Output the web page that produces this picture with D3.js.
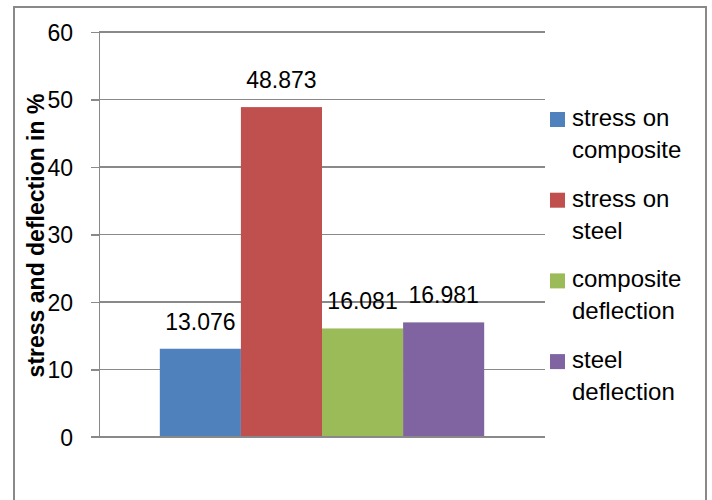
<!DOCTYPE html>
<html lang="en">
<head>
<meta charset="utf-8">
<title>stress and deflection</title>
<script src="https://cdn.jsdelivr.net/npm/d3@7"></script>
<style>
  body { margin: 0; background: #fff; }
  svg text { font-family: "Liberation Sans", Arial, sans-serif; fill: #000; }
  .axis path, .axis line { stroke: #898989; stroke-width: 1.4; shape-rendering: crispEdges; }
  .grid line { stroke: #898989; stroke-width: 1.4; shape-rendering: crispEdges; }
</style>
</head>
<body>
<script>
// data
var series = ["stress on composite", "stress on steel", "composite deflection", "steel deflection"];
var values = [13.076, 48.873, 16.081, 16.981];
var labels = ["13.076", "48.873", "16.081", "16.981"];
var colors = ["#4F81BD", "#C0504D", "#9BBB59", "#8064A2"];
var legendLines = [["stress on", "composite"], ["stress on", "steel"], ["composite", "deflection"], ["steel", "deflection"]];
var yTicks = [0, 10, 20, 30, 40, 50, 60];

var w = 712, h = 500;
var plotLeft = 99, plotRight = 545, plotTop = 32, plotBottom = 437;

var svg = d3.select("body").append("svg").attr("width", w).attr("height", h);

// outer border of the chart
svg.append("rect")
  .attr("x", 14).attr("y", 7).attr("width", 692).attr("height", 520)
  .attr("fill", "none").attr("stroke", "#898989").attr("stroke-width", 2);

var yScale = d3.scaleLinear().domain([0, 60]).range([plotBottom, plotTop]);
var xScale = d3.scaleBand().domain(series).range([plotLeft, plotRight]).paddingInner(0).paddingOuter(0.75);

// gridlines
svg.append("g").attr("class", "grid")
  .selectAll("line").data(yTicks.filter(function(d) { return d > 0; })).enter()
  .append("line")
  .attr("x1", plotLeft).attr("x2", plotRight)
  .attr("y1", function(d) { return yScale(d); })
  .attr("y2", function(d) { return yScale(d); });

// bars
svg.append("g").selectAll("rect").data(values).enter()
  .append("rect")
  .attr("x", function(d, i) { return xScale(series[i]); })
  .attr("width", xScale.bandwidth())
  .attr("y", function(d) { return yScale(d); })
  .attr("height", function(d) { return plotBottom - yScale(d); })
  .attr("fill", function(d, i) { return colors[i]; });

// value labels
svg.append("g").selectAll("text").data(values).enter()
  .append("text")
  .attr("x", function(d, i) { return xScale(series[i]) + xScale.bandwidth() / 2; })
  .attr("y", function(d) { return yScale(d) - 19; })
  .attr("text-anchor", "middle")
  .style("font-size", "23px")
  .text(function(d, i) { return labels[i]; });

// y axis
var yAxis = d3.axisLeft(yScale).tickValues(yTicks).tickSize(8).tickSizeOuter(0).tickPadding(18);
var gy = svg.append("g").attr("class", "axis").attr("transform", "translate(" + plotLeft + ",0)").call(yAxis);
gy.selectAll("text").style("font-size", "23px").attr("dy", "0.36em");

// x axis baseline
svg.append("g").attr("class", "axis")
  .append("line")
  .attr("x1", plotLeft - 8).attr("x2", plotRight)
  .attr("y1", plotBottom).attr("y2", plotBottom);

// y axis title
svg.append("text")
  .attr("transform", "translate(44," + ((plotTop + plotBottom) / 2 + 1) + ") rotate(-90)")
  .attr("text-anchor", "middle")
  .style("font-size", "23px")
  .style("font-weight", "bold")
  .text("stress and deflection in %");

// legend
var legend = svg.append("g").selectAll("g").data(series).enter()
  .append("g")
  .attr("transform", function(d, i) { return "translate(550," + (112 + i * 80.7) + ")"; });

legend.append("rect")
  .attr("width", 15).attr("height", 15)
  .attr("fill", function(d, i) { return colors[i]; });

legend.append("text")
  .attr("x", 22)
  .style("font-size", "24px")
  .selectAll("tspan").data(function(d, i) { return legendLines[i]; }).enter()
  .append("tspan")
  .attr("x", 22)
  .attr("y", function(d, j) { return 14 + j * 32; })
  .text(function(d) { return d; });
</script>
</body>
</html>
